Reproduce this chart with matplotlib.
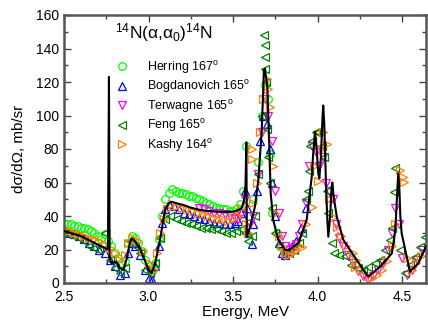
import numpy as np
import matplotlib
matplotlib.use("Agg")
import matplotlib.pyplot as plt
from matplotlib.ticker import MultipleLocator

plt.rcParams['font.family'] = ['Liberation Sans', 'DejaVu Sans']
plt.rcParams['mathtext.fontset'] = 'custom'
plt.rcParams['mathtext.rm'] = 'Liberation Sans'
plt.rcParams['mathtext.it'] = 'Liberation Sans:italic'

# R-matrix / theory curve
theory_e = [2.50, 2.55, 2.60, 2.65, 2.70, 2.74, 2.760, 2.766, 2.770, 2.78, 2.81, 2.83, 2.851,
            2.87, 2.89, 2.90, 2.92, 2.95, 2.98, 3.00, 3.019, 3.04, 3.068, 3.085, 3.098, 3.12,
            3.137, 3.17, 3.206, 3.25, 3.305, 3.35, 3.40, 3.45, 3.50, 3.53, 3.55, 3.565, 3.574,
            3.579, 3.582, 3.601, 3.630, 3.650, 3.670, 3.683, 3.689, 3.703, 3.715, 3.723, 3.738,
            3.768, 3.808, 3.830, 3.886, 3.936, 3.966, 3.975, 3.985, 3.995, 4.005, 4.011, 4.02,
            4.03, 4.034, 4.04, 4.05, 4.058, 4.064, 4.075, 4.083, 4.088, 4.095, 4.114, 4.153,
            4.232, 4.30, 4.37, 4.44, 4.458, 4.465, 4.472, 4.478, 4.485, 4.49, 4.498, 4.547,
            4.597, 4.646]
theory_s = [31, 29.5, 28, 25.5, 23, 21, 20, 123, 15, 12, 12.7, 9, 7.8,
            14, 24, 26.7, 25, 20.7, 13, 8, 5.8, 12, 25.7, 36, 43.6, 47.5,
            48.5, 47.5, 46.6, 45, 43.6, 43, 42.6, 42.5, 42.6, 43.5, 44.6, 49, 58,
            84, 27.6, 33.6, 45.6, 61.5, 91, 127, 128, 117, 81, 53.6, 37.6,
            25.7, 19.7, 19.5, 23.7, 37.6, 63.5, 78, 90.3, 80, 65, 62.5, 75,
            100, 106, 95, 60, 38, 27.6, 40, 57, 60, 52, 39.6, 25.7,
            13.7, 3.8, 9.7, 17.7, 29.7, 40, 55, 65.5, 55, 40, 29.7, 6.8,
            11.8, 22.7]

herring_e = [2.50, 2.52, 2.54, 2.56, 2.58, 2.60, 2.62, 2.64, 2.66, 2.68, 2.70, 2.72, 2.74, 2.76,
             2.78, 2.80, 2.82, 2.84, 2.86, 2.88, 2.90, 2.92, 2.94, 2.96, 2.98, 3.00, 3.02, 3.04,
             3.06, 3.08, 3.10, 3.12, 3.14, 3.16, 3.18, 3.20, 3.22, 3.24, 3.26, 3.28, 3.30, 3.32,
             3.34, 3.36, 3.38, 3.40, 3.42, 3.44, 3.46, 3.48, 3.50, 3.52, 3.54, 3.56, 3.575, 3.59,
             3.62, 3.65, 3.67, 3.69, 3.71, 3.72, 3.73, 3.76, 3.78]
herring_s = [36, 35, 35, 34, 34, 33, 33, 32, 31, 30, 28, 26, 29, 25,
             22, 18, 15, 12, 13, 24, 28, 27, 24, 19, 14, 10, 7, 12,
             26, 40, 50, 54, 56, 55, 54, 54, 53, 52, 52, 51, 50, 49,
             48, 47, 46, 45, 45, 44, 44, 43, 43, 44, 47, 55, 82, 40,
             50, 72, 100, 118, 110, 77, 42, 30, 22]

bogdanovich_e = [2.50, 2.53, 2.56, 2.59, 2.62, 2.65, 2.68, 2.71, 2.74, 2.77, 2.80, 2.83, 2.86,
                 2.88, 2.90, 2.92, 2.95, 2.98, 3.00, 3.02, 3.04, 3.06, 3.08, 3.10, 3.12, 3.15,
                 3.18, 3.21, 3.24, 3.27, 3.30, 3.33, 3.36, 3.39, 3.42, 3.45, 3.48, 3.51, 3.53,
                 3.55, 3.57, 3.58, 3.59, 3.61, 3.62, 3.64, 3.66, 3.68, 3.70, 3.72, 3.73, 3.75,
                 3.77, 3.79, 3.81, 3.83, 3.85, 3.87, 3.90, 3.93]
bogdanovich_s = [32, 30, 29, 28, 26, 24, 22, 20, 18, 14, 10, 5, 6,
                 18, 24, 22, 17, 8, 3, 2, 10, 22, 36, 44, 47, 46,
                 44, 42, 41, 40, 39, 38, 37, 36, 36, 35, 35, 36, 37,
                 42, 55, 45, 30, 23, 35, 55, 85, 100, 95, 80, 60, 40,
                 24, 18, 17, 19, 22, 25, 33, 45]

terwagne_e = [3.30, 3.33, 3.36, 3.39, 3.42, 3.45, 3.48, 3.51, 3.53, 3.55, 3.57, 3.60, 3.62,
              3.65, 3.67, 3.69, 3.71, 3.73, 3.75, 3.77, 3.79, 3.81, 3.83, 3.85, 3.87, 3.89,
              3.91, 3.93, 3.95, 3.97, 3.99, 4.01, 4.03, 4.05, 4.07, 4.09, 4.11, 4.13, 4.15,
              4.18, 4.21, 4.24, 4.27, 4.30, 4.33, 4.36, 4.39, 4.42, 4.44, 4.46, 4.48, 4.50,
              4.53, 4.56, 4.59, 4.62]
terwagne_s = [45, 44, 43, 42, 42, 41, 40, 39, 38, 41, 50, 35, 40,
              65, 90, 110, 100, 85, 55, 42, 28, 22, 20, 21, 23, 28,
              35, 48, 70, 82, 78, 70, 75, 60, 55, 50, 35, 27, 22,
              17, 12, 7, 4, 2, 4, 8, 12, 20, 30, 45, 35, 15,
              5, 8, 14, 20]

feng_e = [2.50, 2.53, 2.56, 2.59, 2.62, 2.65, 2.68, 2.71, 2.74, 2.77, 2.80, 2.83, 2.86, 2.89,
          2.92, 2.95, 2.98, 3.01, 3.04, 3.07, 3.10, 3.13, 3.16, 3.19, 3.22, 3.25, 3.28, 3.31,
          3.34, 3.37, 3.40, 3.43, 3.46, 3.49, 3.52, 3.55, 3.57, 3.59, 3.61, 3.63, 3.65, 3.67,
          3.685, 3.688, 3.690, 3.692, 3.694, 3.70, 3.71, 3.72, 3.73, 3.75, 3.77, 3.80, 3.83,
          3.86, 3.89, 3.91, 3.93, 3.945, 3.95, 3.955, 3.97, 3.99, 4.005, 4.025, 4.04, 4.054,
          4.064, 4.084, 4.10, 4.13, 4.16, 4.20, 4.24, 4.27, 4.30, 4.34, 4.37, 4.40, 4.43,
          4.44, 4.45, 4.46, 4.49, 4.518, 4.547, 4.577, 4.607, 4.636]
feng_s = [30, 29, 28, 27, 25, 22, 21, 20, 30, 14, 9, 6, 9, 25,
          22, 18, 8, 6, 12, 27, 38, 40, 38, 37, 36, 35, 34, 33,
          33, 32, 32, 31, 30, 30, 31, 32, 30, 25, 28, 40, 65, 100,
          148, 142, 135, 128, 120, 92, 75, 60, 45, 30, 22, 18, 18,
          20, 24, 30, 50, 55, 67, 82, 85, 90, 90, 82, 75, 55,
          42, 24, 18, 17, 16, 11, 9, 7, 9.7, 12, 14, 19.7, 25.7,
          32.6, 54.5, 68.5, 20, 5.8, 10.7, 15.7, 21.7, 27.6]

kashy_e = [2.50, 2.53, 2.56, 2.59, 2.62, 2.65, 2.68, 2.71, 2.74, 2.77, 2.80, 2.83, 2.86, 2.88,
           2.91, 2.94, 2.97, 3.00, 3.03, 3.05, 3.07, 3.09, 3.11, 3.14, 3.17, 3.20, 3.23, 3.26,
           3.29, 3.32, 3.35, 3.38, 3.41, 3.44, 3.47, 3.50, 3.53, 3.55, 3.575, 3.59, 3.61, 3.612,
           3.62, 3.64, 3.66, 3.68, 3.70, 3.71, 3.72, 3.735, 3.75, 3.77, 3.79, 3.81, 3.83, 3.85,
           3.87, 3.89, 3.906, 3.93, 3.966, 3.98, 4.005, 4.02, 4.034, 4.054, 4.07, 4.094, 4.114,
           4.14, 4.17, 4.21, 4.22, 4.23, 4.26, 4.29, 4.32, 4.35, 4.38, 4.41, 4.44, 4.46, 4.488,
           4.508, 4.51, 4.53, 4.557, 4.58, 4.61]
kashy_s = [33, 31, 30, 29, 28, 27, 26, 25, 23, 21, 18, 14, 17, 24,
           27, 25, 19, 12, 8, 18, 30, 38, 44, 47, 46, 45, 44, 43,
           42, 41, 40, 39, 38, 38, 37, 38, 40, 45, 35, 30, 80, 74,
           48, 60, 90, 110, 122, 116, 105, 70, 42, 28, 22, 18, 17, 18,
           20, 22, 21.7, 35, 45.6, 70, 61, 80, 90, 83, 50, 39.6, 33.6,
           28, 22, 18, 9.7, 13.7, 8, 4, 3, 5, 8, 13, 22, 35, 67.5,
           63.5, 60.5, 15, 7.8, 12, 16]

series = [
    ("Herring 167$^{\\rm o}$", herring_e, herring_s, 'o', '#00ff00'),
    ("Bogdanovich 165$^{\\rm o}$", bogdanovich_e, bogdanovich_s, '^', '#0000ff'),
    ("Terwagne 165$^{\\rm o}$", terwagne_e, terwagne_s, 'v', '#ff00ff'),
    ("Feng 165$^{\\rm o}$", feng_e, feng_s, '<', '#008000'),
    ("Kashy 164$^{\\rm o}$", kashy_e, kashy_s, '>', '#ff8000'),
]

fig = plt.figure(figsize=(4.28, 3.29), dpi=100)
ax = fig.add_axes([64/428, 46/329, 362/428, 268/329])

for label, e, s, m, c in series:
    ax.plot(e, s, ls='none', marker=m, ms=5.5, mfc='none', mec=c, mew=0.9, label=label)
ax.plot(theory_e, theory_s, color='black', lw=1.5, zorder=5)

ax.set_xlim(2.5, 4.642)
ax.set_ylim(0, 160)
ax.xaxis.set_minor_locator(MultipleLocator(0.25))
ax.yaxis.set_major_locator(MultipleLocator(20))
ax.yaxis.set_minor_locator(MultipleLocator(10))
ax.set_xticks([2.5, 3.0, 3.5, 4.0, 4.5])
ax.set_xticklabels(['2.5', '3.0', '3.5', '4.0', '4.5'])
ax.tick_params(which='both', direction='in', top=True, right=True, labelsize=10,
               color='#444444', width=1)
ax.tick_params(which='major', length=5)
ax.tick_params(which='minor', length=3)
ax.tick_params(axis='x', pad=5)
for sp in ax.spines.values():
    sp.set_color('#555555')
    sp.set_linewidth(1.8)

ax.set_xlabel("Energy, MeV", fontsize=11, labelpad=1)
ax.set_ylabel("d\u03c3/d\u03a9, mb/sr", fontsize=11, labelpad=7)

ax.text(0.275, 0.935, "$^{14}$N(\u03b1,\u03b1$_0$)$^{14}$N", transform=ax.transAxes,
        fontsize=12.5, ha='center', va='center')
ax.legend(loc='upper left', bbox_to_anchor=(0.12, 0.87), frameon=False, fontsize=9,
          handlelength=1.0, handletextpad=1.5, labelspacing=0.2, borderpad=0.2)

fig.savefig("out.png", dpi=100)
